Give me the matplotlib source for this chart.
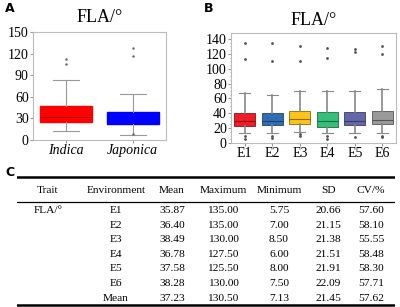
import matplotlib.pyplot as plt

plt.rcParams['font.family'] = ['Liberation Serif', 'DejaVu Serif']

# Panel A: box stats
groups = ['Indica', 'Japonica']
a_q1 = [25, 22]
a_med = [32, 30]
a_q3 = [47, 39]
a_lo = [12, 7]
a_hi = [83, 64]
a_fliers = [[105, 112], [116, 128, 9]]
a_colors = ['#ff0000', '#0000ff']
a_medcol = ['#a00000', '#0000ff']

# Panel B: box stats per environment
envs = ['E1', 'E2', 'E3', 'E4', 'E5', 'E6']
b_q1 = [23, 24, 25, 22, 24, 25]
b_med = [29, 29, 32, 29, 30, 31]
b_q3 = [41, 40, 43, 42, 42, 43]
b_lo = [14, 14, 15, 14, 14, 14]
b_hi = [67, 64, 70, 70, 70, 72]
b_fliers = [[113, 135, 10, 6], [110, 135, 9, 7], [110, 130, 12, 9],
            [114, 128, 10, 6], [122, 126, 8], [120, 130, 10, 8]]
b_colors = ['#ee1c25', '#2f6db3', '#fcc419', '#34c07a', '#6467a8', '#9a9a9a']
b_edges = ['#8c1015', '#1d436e', '#8a6b0b', '#1d6b43', '#3a3c63', '#555555']

# Panel C: table
header = ['Trait', 'Environment', 'Mean', 'Maximum', 'Minimum', 'SD', 'CV/%']
env_rows = ['E1', 'E2', 'E3', 'E4', 'E5', 'E6', 'Mean']
means = ['35.87', '36.40', '38.49', '36.78', '37.58', '38.28', '37.23']
maxs = ['135.00', '135.00', '130.00', '127.50', '125.50', '130.00', '130.50']
mins = ['5.75', '7.00', '8.50', '6.00', '8.00', '7.50', '7.13']
sds = ['20.66', '21.15', '21.38', '21.51', '21.91', '22.09', '21.45']
cvs = ['57.60', '58.10', '55.55', '58.48', '58.30', '57.71', '57.62']


def stats(q1, med, q3, lo, hi, fl):
    return [dict(q1=q1[i], med=med[i], q3=q3[i], whislo=lo[i], whishi=hi[i],
                 fliers=fl[i]) for i in range(len(q1))]


fig = plt.figure(figsize=(4.0, 3.07), dpi=100)

# ---- A ----
axA = fig.add_axes([33/400, 1-140/307, 133/400, 108/307])
bpA = axA.bxp(stats(a_q1, a_med, a_q3, a_lo, a_hi, a_fliers), widths=0.78,
              patch_artist=True, showcaps=True,
              whiskerprops=dict(color='#999999', lw=0.8),
              capprops=dict(color='#999999', lw=0.8),
              flierprops=dict(marker='.', ms=1.5, mec='#666666', mfc='#666666'))
for p, m, c, mc in zip(bpA['boxes'], bpA['medians'], a_colors, a_medcol):
    p.set_facecolor(c)
    p.set_edgecolor(c)
    m.set_color(mc)
    m.set_linewidth(0.6)
axA.set_ylim(0, 150)
axA.set_yticks([0, 30, 60, 90, 120, 150])
axA.set_xticklabels(groups, style='italic', fontsize=10)
axA.tick_params(labelsize=10, length=2, color='#999999', pad=1)
for s in axA.spines.values():
    s.set_color('#bbbbbb')
    s.set_linewidth(0.8)
axA.set_title('FLA/°', fontsize=13, pad=7)

# ---- B ----
axB = fig.add_axes([231/400, 1-143/307, 165/400, 110/307])
bpB = axB.bxp(stats(b_q1, b_med, b_q3, b_lo, b_hi, b_fliers), widths=0.78,
              patch_artist=True,
              whiskerprops=dict(color='#888888', lw=1.2),
              capprops=dict(color='#888888', lw=0.8),
              flierprops=dict(marker='.', ms=2, mec='#555555', mfc='#555555'))
for p, m, c, e in zip(bpB['boxes'], bpB['medians'], b_colors, b_edges):
    p.set_facecolor(c)
    p.set_edgecolor(e)
    p.set_linewidth(0.6)
    m.set_color(e)
    m.set_linewidth(0.8)
axB.set_ylim(0, 148)
axB.set_yticks(range(0, 141, 20))
axB.set_yticks(range(0, 141, 5), minor=True)
axB.set_xticklabels(envs, fontsize=10)
axB.tick_params(labelsize=10, length=2, color='#999999', pad=1)
axB.tick_params(which='minor', length=1, color='#999999')
for s in axB.spines.values():
    s.set_color('#bbbbbb')
    s.set_linewidth(0.8)
axB.set_title('FLA/°', fontsize=13, pad=6)

# ---- C ----
# one unit = one table row
axC = fig.add_axes([17/400, 0, 378/400, 1-175/307])
axC.set_xlim(0, 1)
axC.set_ylim(6.62, -2.48)
axC.axis('off')
col_x = [0.082, 0.262, 0.41, 0.545, 0.693, 0.823, 0.937]
fs = 8.2
for x, h in zip(col_x, header):
    axC.text(x, -1.38, h, ha='center', va='center', fontsize=fs)
columns = [env_rows, means, maxs, mins, sds, cvs]
for i in range(len(env_rows)):
    for x, col in zip(col_x[1:], columns):
        axC.text(x, i, col[i], ha='center', va='center', fontsize=fs)
axC.text(col_x[0], 0, 'FLA/°', ha='center', va='center', fontsize=fs)
axC.axhline(-2.34, color='black', lw=1.8)
axC.axhline(-0.62, color='black', lw=0.9)
axC.axhline(6.5, color='black', lw=1.8)

fig.text(5/400, 1-9/307, 'A', fontsize=9, fontweight='bold', family='DejaVu Sans', va='center')
fig.text(204/400, 1-9/307, 'B', fontsize=9, fontweight='bold', family='DejaVu Sans', va='center')
fig.text(5/400, 1-172/307, 'C', fontsize=9, fontweight='bold', family='DejaVu Sans', va='center')

fig.savefig('out.png', dpi=100)
